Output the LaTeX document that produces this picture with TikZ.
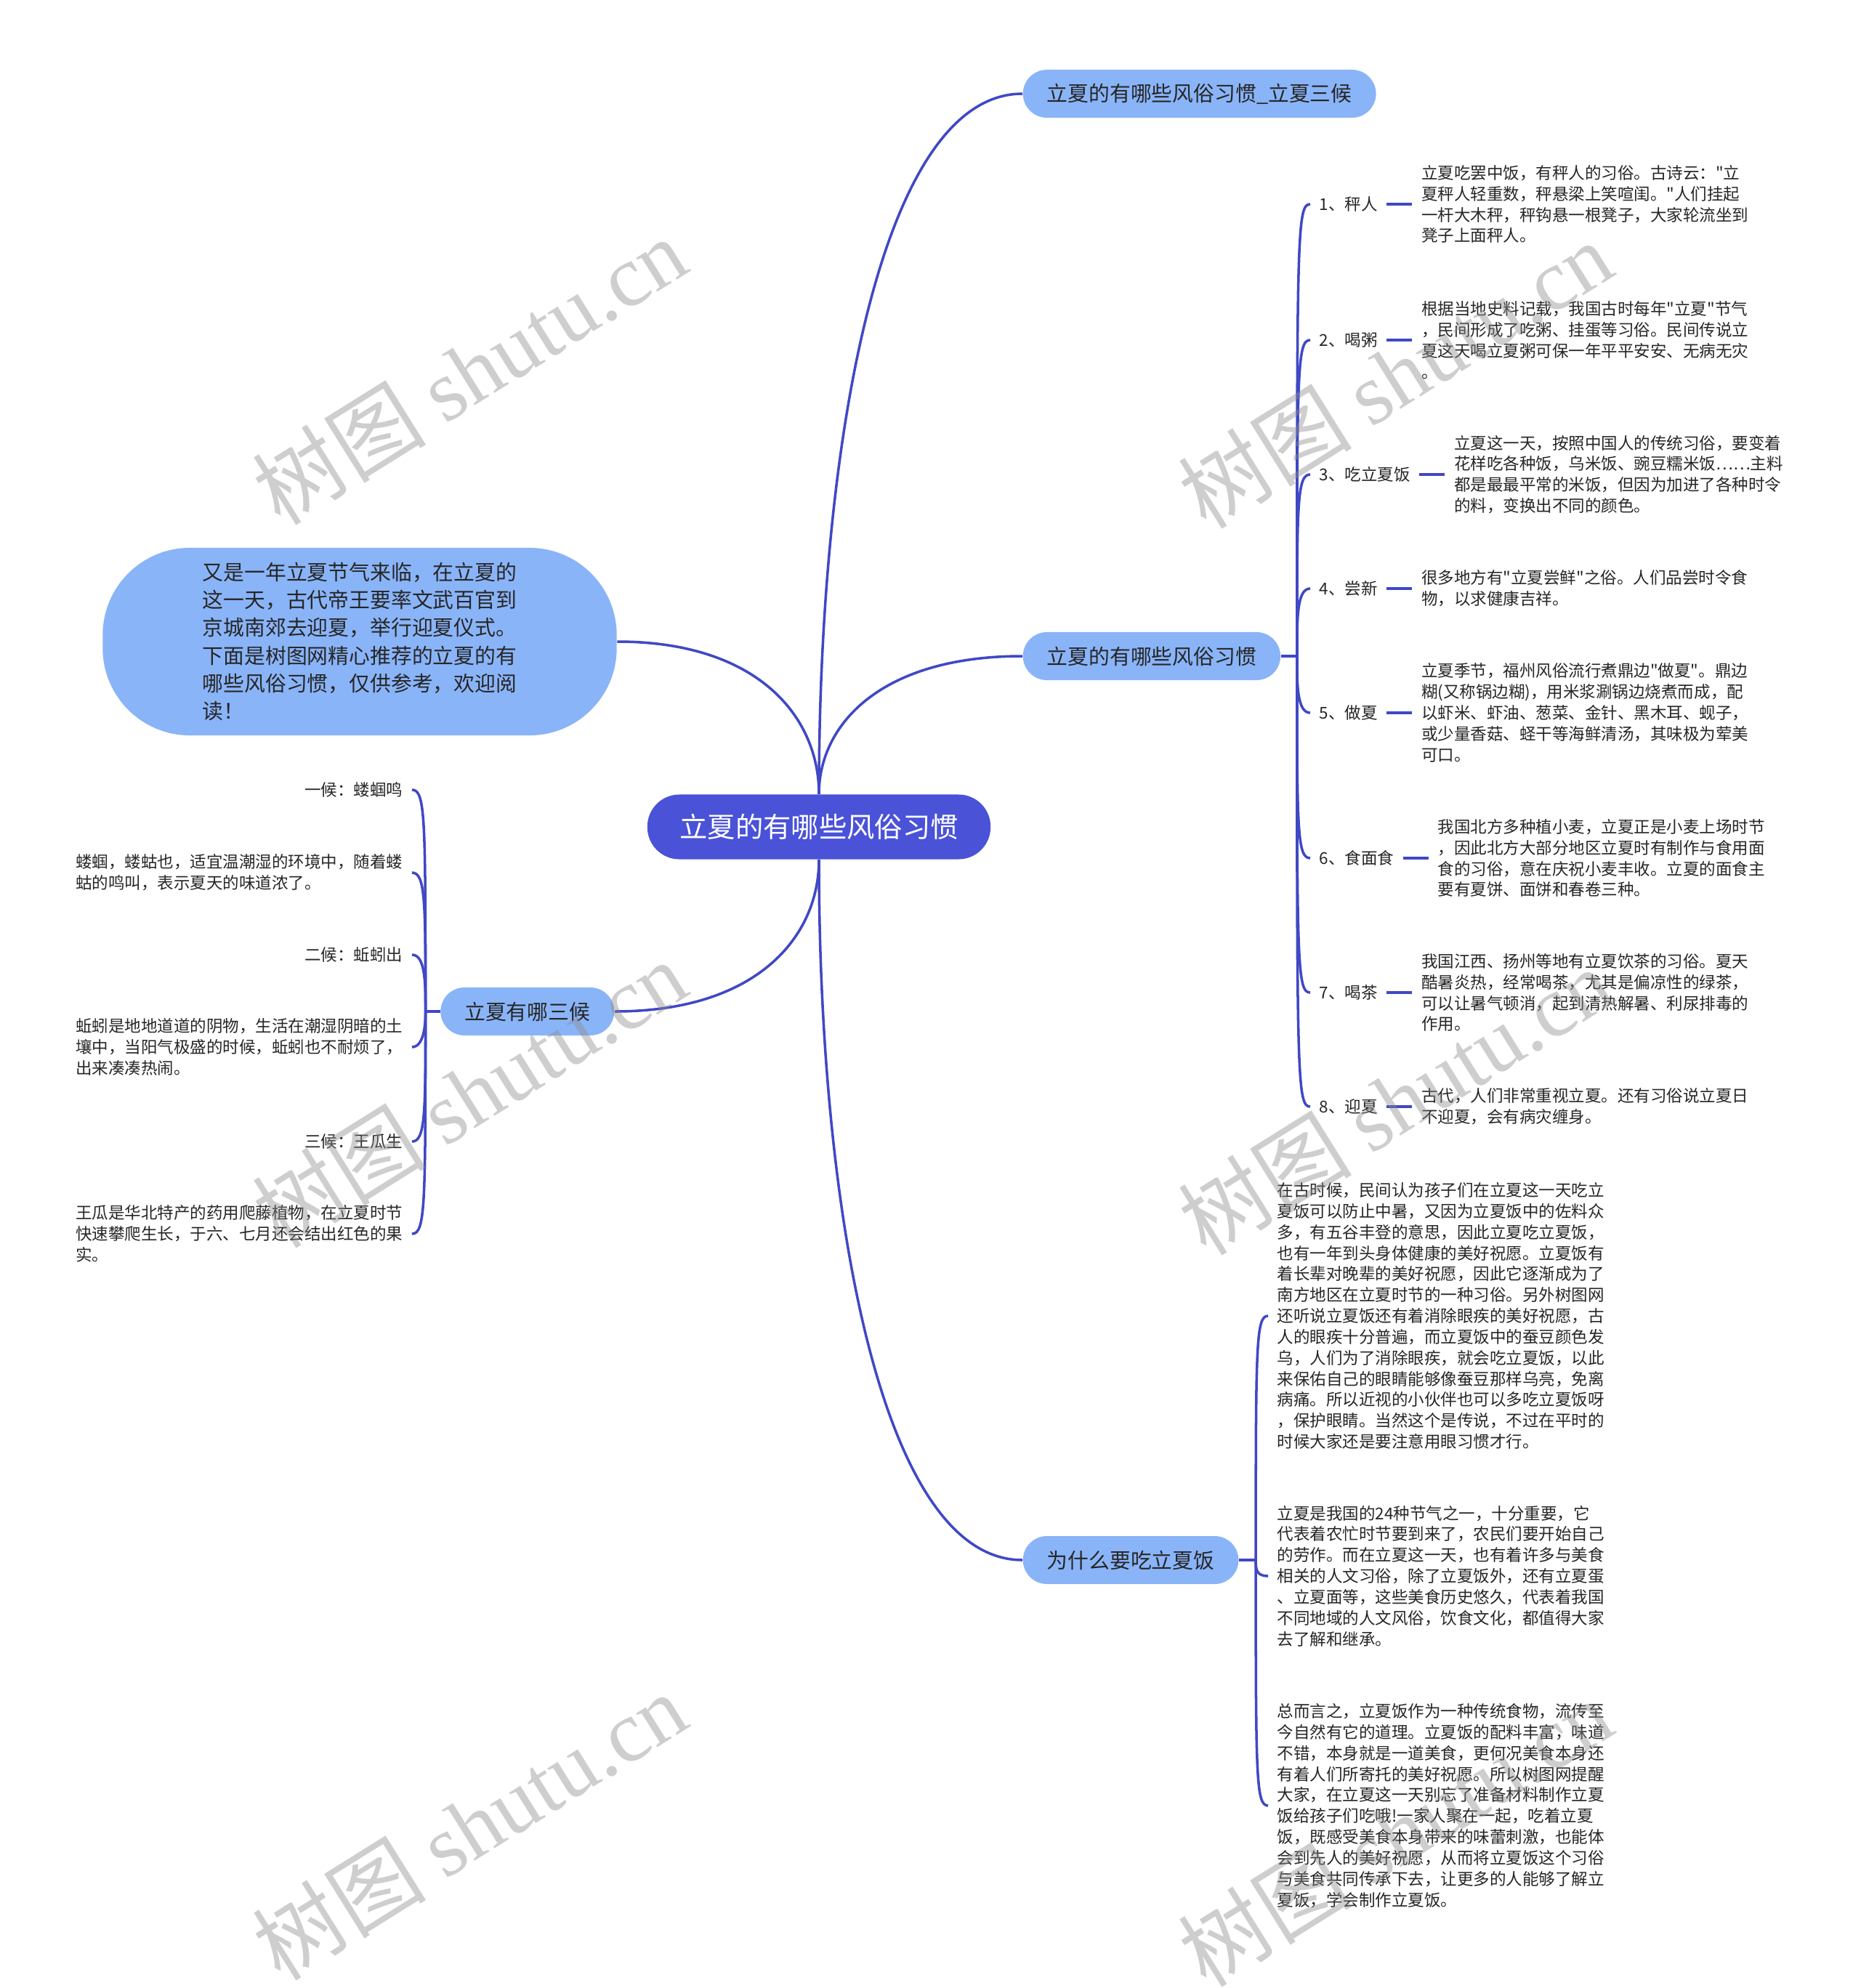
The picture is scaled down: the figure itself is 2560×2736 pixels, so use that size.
\documentclass[tikz,border=0pt]{standalone}
\usepackage{fontspec}
\setmainfont{Noto Sans CJK SC}[Ligatures=TeXOff]
\newfontfamily\wmfont{Liberation Serif}
\usepackage{xcolor}
\usepackage{tikz}
\usetikzlibrary{positioning,calc}

\definecolor{rootblue}{RGB}{74,82,216}
\definecolor{topicblue}{RGB}{138,180,248}
\definecolor{linkblue}{RGB}{64,72,196}
\definecolor{inkgray}{RGB}{38,38,38}

\begin{document}
\begin{tikzpicture}[
x=0.01cm,y=-0.01cm,
root/.style={rounded corners=0.44cm,fill=rootblue,text=white,minimum height=0.89cm,inner xsep=0.445cm,inner ysep=0pt,font=\fontsize{10.9}{13}\selectfont},
topic/.style={rounded corners=0.33cm,fill=topicblue,text=inkgray,minimum height=0.66cm,inner xsep=0.33cm,inner ysep=0pt,font=\fontsize{8.2}{10.9}\selectfont},
intro/.style={rounded corners=1.2cm,fill=topicblue,text=inkgray,minimum width=7.07cm,minimum height=2.58cm,align=left,font=\fontsize{8.2}{10.9}\selectfont},
tag/.style={inner xsep=0.12cm,inner ysep=0pt,text=inkgray,font=\fontsize{6.4}{8.2}\selectfont},
note/.style={tag,align=left},
link/.style={draw=linkblue,line width=1pt},
stub/.style={draw=linkblue,line width=1.4pt},
watermark/.style={rotate=32,inner sep=0pt,text=black!45,text opacity=0.42,font=\fontsize{34}{40}\selectfont}
]
\fill[white] (0,0) rectangle (2560,2736);
\useasboundingbox (0,0) rectangle (2560,2736);

% centre and main topics
\node[root] (root) at (1127,1138) {立夏的有哪些风俗习惯};
\node[topic,anchor=west] (b1) at (1407,129) {立夏的有哪些风俗习惯\_立夏三候};
\node[topic,anchor=west] (b2) at (1407,903) {立夏的有哪些风俗习惯};
\node[topic,anchor=west] (b3) at (1407,2147) {为什么要吃立夏饭};
\node[topic,anchor=east] (b4) at (846,1392) {立夏有哪三候};
\node[intro] (intro) at (495,883) {又是一年立夏节气来临，在立夏的\\这一天，古代帝王要率文武百官到\\京城南郊去迎夏，举行迎夏仪式。\\下面是树图网精心推荐的立夏的有\\哪些风俗习惯，仅供参考，欢迎阅\\读！};

\draw[link] (root.north) .. controls +(0,-480) and +(-196,0) .. (b1.west);
\draw[link] (root.north) .. controls +(0,-95) and +(-196,0) .. (b2.west);
\draw[link] (root.north) .. controls +(0,-105) and +(195,0) .. (intro.east);
\draw[link] (root.south) .. controls +(0,105) and +(197,0) .. (b4.east);
\draw[link] (root.south) .. controls +(0,480) and +(-196,0) .. (b3.west);

% customs
\coordinate (s2) at ([xshift=0.22cm]b2.east);
\draw[link] (b2.east) -- (s2);
\node[tag,anchor=west] (k1) at (1803,281) {1、秤人};
\node[tag,anchor=west] (k2) at (1803,468) {2、喝粥};
\node[tag,anchor=west] (k3) at (1803,653) {3、吃立夏饭};
\node[tag,anchor=west] (k4) at (1803,810) {4、尝新};
\node[tag,anchor=west] (k5) at (1803,981) {5、做夏};
\node[tag,anchor=west] (k6) at (1803,1181) {6、食面食};
\node[tag,anchor=west] (k7) at (1803,1366) {7、喝茶};
\node[tag,anchor=west] (k8) at (1803,1523) {8、迎夏};

\node[note,right=0.35cm of k1] (n1) {立夏吃罢中饭，有秤人的习俗。古诗云："立\\夏秤人轻重数，秤悬梁上笑喧闺。"人们挂起\\一杆大木秤，秤钩悬一根凳子，大家轮流坐到\\凳子上面秤人。};
\node[note,right=0.35cm of k2] (n2) {根据当地史料记载，我国古时每年"立夏"节气\\，民间形成了吃粥、挂蛋等习俗。民间传说立\\夏这天喝立夏粥可保一年平平安安、无病无灾\\。};
\node[note,right=0.35cm of k3] (n3) {立夏这一天，按照中国人的传统习俗，要变着\\花样吃各种饭，乌米饭、豌豆糯米饭……主料\\都是最最平常的米饭，但因为加进了各种时令\\的料，变换出不同的颜色。};
\node[note,right=0.35cm of k4] (n4) {很多地方有"立夏尝鲜"之俗。人们品尝时令食\\物，以求健康吉祥。};
\node[note,right=0.35cm of k5] (n5) {立夏季节，福州风俗流行煮鼎边"做夏"。鼎边\\糊(又称锅边糊)，用米浆涮锅边烧煮而成，配\\以虾米、虾油、葱菜、金针、黑木耳、蚬子，\\或少量香菇、蛏干等海鲜清汤，其味极为荤美\\可口。};
\node[note,right=0.35cm of k6] (n6) {我国北方多种植小麦，立夏正是小麦上场时节\\，因此北方大部分地区立夏时有制作与食用面\\食的习俗，意在庆祝小麦丰收。立夏的面食主\\要有夏饼、面饼和春卷三种。};
\node[note,right=0.35cm of k7] (n7) {我国江西、扬州等地有立夏饮茶的习俗。夏天\\酷暑炎热，经常喝茶，尤其是偏凉性的绿茶，\\可以让暑气顿消，起到清热解暑、利尿排毒的\\作用。};
\node[note,right=0.35cm of k8] (n8) {古代，人们非常重视立夏。还有习俗说立夏日\\不迎夏，会有病灾缠身。};

\draw[link] (s2) .. controls ($(s2 |- k1)+(0,40)$) and (s2 |- k1) .. (k1.west);
\draw[link] (s2) .. controls ($(s2 |- k2)+(0,40)$) and (s2 |- k2) .. (k2.west);
\draw[link] (s2) .. controls ($(s2 |- k3)+(0,40)$) and (s2 |- k3) .. (k3.west);
\draw[link] (s2) .. controls ($(s2 |- k4)+(0,40)$) and (s2 |- k4) .. (k4.west);
\draw[link] (s2) .. controls ($(s2 |- k5)+(0,-40)$) and (s2 |- k5) .. (k5.west);
\draw[link] (s2) .. controls ($(s2 |- k6)+(0,-40)$) and (s2 |- k6) .. (k6.west);
\draw[link] (s2) .. controls ($(s2 |- k7)+(0,-40)$) and (s2 |- k7) .. (k7.west);
\draw[link] (s2) .. controls ($(s2 |- k8)+(0,-40)$) and (s2 |- k8) .. (k8.west);
\draw[stub] (k1) -- (n1);
\draw[stub] (k2) -- (n2);
\draw[stub] (k3) -- (n3);
\draw[stub] (k4) -- (n4);
\draw[stub] (k5) -- (n5);
\draw[stub] (k6) -- (n6);
\draw[stub] (k7) -- (n7);
\draw[stub] (k8) -- (n8);

% why eat lixia rice
\coordinate (s3) at ([xshift=0.23cm]b3.east);
\draw[link] (b3.east) -- (s3);
\node[note,anchor=west] (r1) at (1745,1811) {在古时候，民间认为孩子们在立夏这一天吃立\\夏饭可以防止中暑，又因为立夏饭中的佐料众\\多，有五谷丰登的意思，因此立夏吃立夏饭，\\也有一年到头身体健康的美好祝愿。立夏饭有\\着长辈对晚辈的美好祝愿，因此它逐渐成为了\\南方地区在立夏时节的一种习俗。另外树图网\\还听说立夏饭还有着消除眼疾的美好祝愿，古\\人的眼疾十分普遍，而立夏饭中的蚕豆颜色发\\乌，人们为了消除眼疾，就会吃立夏饭，以此\\来保佑自己的眼睛能够像蚕豆那样乌亮，免离\\病痛。所以近视的小伙伴也可以多吃立夏饭呀\\，保护眼睛。当然这个是传说，不过在平时的\\时候大家还是要注意用眼习惯才行。};
\node[note,anchor=west] (r2) at (1745,2169) {立夏是我国的24种节气之一，十分重要，它\\代表着农忙时节要到来了，农民们要开始自己\\的劳作。而在立夏这一天，也有着许多与美食\\相关的人文习俗，除了立夏饭外，还有立夏蛋\\、立夏面等，这些美食历史悠久，代表着我国\\不同地域的人文风俗，饮食文化，都值得大家\\去了解和继承。};
\node[note,anchor=west] (r3) at (1745,2485) {总而言之，立夏饭作为一种传统食物，流传至\\今自然有它的道理。立夏饭的配料丰富，味道\\不错，本身就是一道美食，更何况美食本身还\\有着人们所寄托的美好祝愿。所以树图网提醒\\大家，在立夏这一天别忘了准备材料制作立夏\\饭给孩子们吃哦!一家人聚在一起，吃着立夏\\饭，既感受美食本身带来的味蕾刺激，也能体\\会到先人的美好祝愿，从而将立夏饭这个习俗\\与美食共同传承下去，让更多的人能够了解立\\夏饭，学会制作立夏饭。};
\draw[link] (s3) .. controls ($(s3 |- r1)+(0,40)$) and (s3 |- r1) .. (r1.west);
\draw[link] (s3) .. controls ($(s3 |- r2)+(0,-10)$) and (s3 |- r2) .. (r2.west);
\draw[link] (s3) .. controls ($(s3 |- r3)+(0,-40)$) and (s3 |- r3) .. (r3.west);

% three pentads
\coordinate (s4) at ([xshift=-0.2cm]b4.west);
\draw[link] (b4.west) -- (s4);
\node[tag,anchor=east] (h1) at (567,1087) {一候：蝼蝈鸣};
\node[note,anchor=east] (h2) at (567,1201) {蝼蝈，蝼蛄也，适宜温潮湿的环境中，随着蝼\\蛄的鸣叫，表示夏天的味道浓了。};
\node[tag,anchor=east] (h3) at (567,1314) {二候：蚯蚓出};
\node[note,anchor=east] (h4) at (567,1441) {蚯蚓是地地道道的阴物，生活在潮湿阴暗的土\\壤中，当阳气极盛的时候，蚯蚓也不耐烦了，\\出来凑凑热闹。};
\node[tag,anchor=east] (h5) at (567,1571) {三候：王瓜生};
\node[note,anchor=east] (h6) at (567,1698) {王瓜是华北特产的药用爬藤植物，在立夏时节\\快速攀爬生长，于六、七月还会结出红色的果\\实。};
\draw[link] (s4) .. controls ($(s4 |- h1)+(0,40)$) and (s4 |- h1) .. (h1.east);
\draw[link] (s4) .. controls ($(s4 |- h2)+(0,40)$) and (s4 |- h2) .. (h2.east);
\draw[link] (s4) .. controls ($(s4 |- h3)+(0,40)$) and (s4 |- h3) .. (h3.east);
\draw[link] (s4) .. controls ($(s4 |- h4)+(0,-40)$) and (s4 |- h4) .. (h4.east);
\draw[link] (s4) .. controls ($(s4 |- h5)+(0,-40)$) and (s4 |- h5) .. (h5.east);
\draw[link] (s4) .. controls ($(s4 |- h6)+(0,-40)$) and (s4 |- h6) .. (h6.east);

% watermarks
\node[watermark] (wm1) at (646,510) {树图 {\wmfont shutu.cn}};
\node[watermark] (wm2) at (1920,515) {树图 {\wmfont shutu.cn}};
\node[watermark] (wm3) at (646,1505) {树图 {\wmfont shutu.cn}};
\node[watermark] (wm4) at (1920,1515) {树图 {\wmfont shutu.cn}};
\node[watermark] (wm5) at (646,2513) {树图 {\wmfont shutu.cn}};
\node[watermark] (wm6) at (1920,2522) {树图 {\wmfont shutu.cn}};
\end{tikzpicture}
\end{document}
